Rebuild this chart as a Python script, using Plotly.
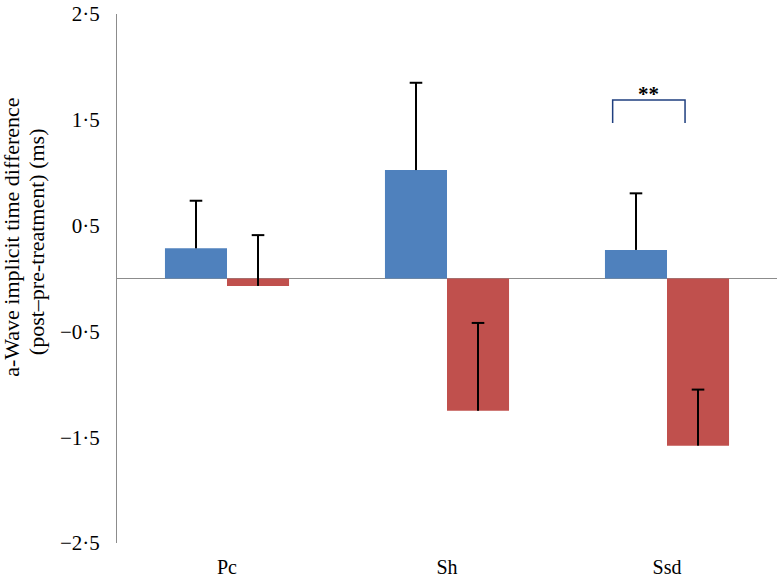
import plotly.graph_objects as go

categories = ["Pc", "Sh", "Ssd"]
blue_values = [0.285, 1.025, 0.27]
blue_err = [0.45, 0.825, 0.535]
red_values = [-0.07, -1.25, -1.58]
red_err = [0.48, 0.83, 0.53]
tick_vals = [2.5, 1.5, 0.5, -0.5, -1.5, -2.5]
tick_text = ["2·5", "1·5", "0·5", "−0·5", "−1·5", "−2·5"]
title_lines = ["a-Wave implicit time difference", "(post–pre-treatment) (ms)"]

font = "Liberation Serif"

fig = go.Figure()
for vals, errs, color, grp in [(blue_values, blue_err, "#4F81BD", "a"),
                               (red_values, red_err, "#C0504D", "b")]:
    # bar with error stem (no caps)
    fig.add_trace(go.Bar(
        x=categories, y=vals, marker_color=color, marker_line_width=0, offsetgroup=grp,
        error_y=dict(type="data", symmetric=False, array=errs, arrayminus=[0] * len(errs),
                     color="black", thickness=2, width=0),
    ))
    # cap only at the tip of the error bar
    tips = [v + e for v, e in zip(vals, errs)]
    fig.add_trace(go.Scatter(
        x=categories, y=tips, mode="markers", offsetgroup=grp,
        marker=dict(symbol="line-ew", size=9, line=dict(color="black", width=2)),
    ))

# significance bracket over Ssd
fig.add_shape(type="path", path="M 1.753,1.47 L 1.753,1.687 L 2.082,1.687 L 2.082,1.47",
              line=dict(color="#1F3F7F", width=1.5))
fig.add_annotation(x=1.917, y=1.687, text="<b>**</b>", showarrow=False, yanchor="bottom",
                   yshift=-8, font=dict(family=font, size=21, color="black"))

# two-line rotated y title
for line, xpos, ypos in zip(title_lines, [-0.159, -0.121], [0.577, 0.569]):
    fig.add_annotation(
        text=line, xref="paper", yref="paper", x=xpos, y=ypos, textangle=-90,
        showarrow=False, xanchor="center", yanchor="middle",
        font=dict(family=font, size=22, color="black"),
    )

fig.update_layout(
    width=780, height=577,
    margin=dict(l=117, r=3, t=14, b=34),
    plot_bgcolor="white", paper_bgcolor="white",
    showlegend=False, barmode="group", bargap=0.436, bargroupgap=0,
    scattermode="group", scattergap=0.436,
    font=dict(family=font, size=18, color="black"),
)
fig.update_xaxes(showgrid=False, showline=False, ticks="", range=[-0.5, 2.5],
                 automargin=False, ticklabelstandoff=10, tickfont=dict(size=20))
fig.update_yaxes(range=[-2.5, 2.5], tickvals=tick_vals, ticktext=tick_text,
                 showgrid=False, showline=True, linecolor="#8C8C8C", linewidth=1,
                 zeroline=True, zerolinecolor="#8C8C8C", zerolinewidth=1,
                 automargin=False, ticks="", ticklabelstandoff=12, tickfont=dict(size=21))

fig.write_html("out.html", config={"displayModeBar": False},
               post_script="document.body.style.margin='0';")
